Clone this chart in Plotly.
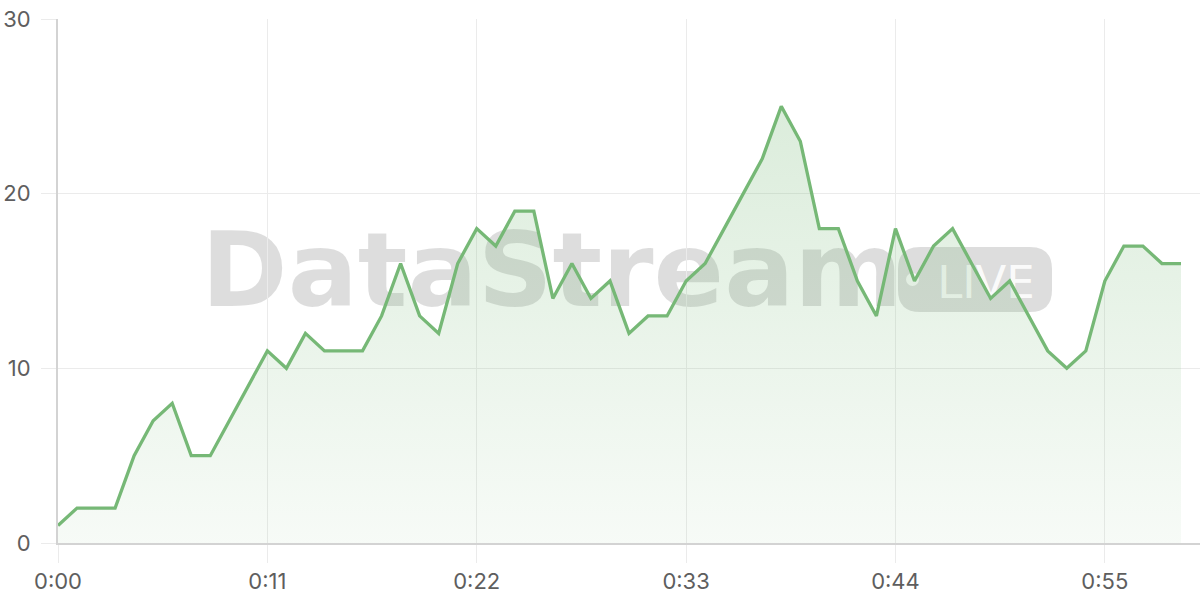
import plotly.graph_objects as go

# ---- data ----
seconds = list(range(60))
values = [1, 2, 2, 2, 5, 7, 8, 5, 5, 7,
          9, 11, 10, 12, 11, 11, 11, 13, 16, 13,
          12, 16, 18, 17, 19, 19, 14, 16, 14, 15,
          12, 13, 13, 15, 16, 18, 20, 22, 25, 23,
          18, 18, 15, 13, 18, 15, 17, 18, 16, 14,
          15, 13, 11, 10, 11, 15, 17, 17, 16, 16]
tick_vals = [0, 11, 22, 33, 44, 55]
tick_text = ["0:00", "0:11", "0:22", "0:33", "0:44", "0:55"]
y_ticks = [0, 10, 20, 30]
watermark_main = "DataStream"
watermark_badge = "LIVE"

W, H = 1200, 600
PLOT_L, PLOT_R, PLOT_T, PLOT_B = 58, 1200, 19, 543
PW, PH = PLOT_R - PLOT_L, PLOT_B - PLOT_T


def px(x):
    return (x - PLOT_L) / PW


def py(y):
    return (PLOT_B - y) / PH


LINE = "#76b876"
TICK_COLOR = "#5e5e5e"

fig = go.Figure()
fig.add_trace(go.Scatter(
    x=seconds, y=values, mode="lines",
    line=dict(color=LINE, width=3.3),
    fill="tozeroy",
    fillgradient=dict(type="vertical", start=0, stop=25,
                      colorscale=[[0, "rgba(118,184,118,0.06)"],
                                  [1, "rgba(118,184,118,0.26)"]]),
    hoverinfo="skip", showlegend=False,
))

# watermark shapes (below traces)
shapes = []
shapes.append(dict(type="rect", xref="paper", yref="paper",
                   x0=px(196), x1=px(908), y0=py(306), y1=py(220),
                   line=dict(width=0), fillcolor="rgba(0,0,0,0)", layer="below",
                   label=dict(text=watermark_main,
                              font=dict(family="DejaVu Sans", size=104, color="rgba(0,0,0,0.135)", weight="bold"),
                              textposition="middle center")))
# pill
x0, x1, y0, y1, r = 898, 1052, 247, 312, 22
rx, ry = r / PW, r / PH
X0, X1, Y0, Y1 = px(x0), px(x1), py(y1), py(y0)
path = (f"M {X0+rx},{Y0} L {X1-rx},{Y0} Q {X1},{Y0} {X1},{Y0+ry} "
        f"L {X1},{Y1-ry} Q {X1},{Y1} {X1-rx},{Y1} L {X0+rx},{Y1} "
        f"Q {X0},{Y1} {X0},{Y1-ry} L {X0},{Y0+ry} Q {X0},{Y0} {X0+rx},{Y0} Z")
shapes.append(dict(type="path", xref="paper", yref="paper", path=path,
                   line=dict(width=0), fillcolor="rgba(0,0,0,0.135)", layer="below"))
shapes.append(dict(type="circle", xref="paper", yref="paper",
                   x0=px(906), x1=px(919), y0=py(286), y1=py(273),
                   line=dict(width=0), fillcolor="rgba(255,255,255,0.85)", layer="below"))
shapes.append(dict(type="rect", xref="paper", yref="paper",
                   x0=px(930), x1=px(1042), y0=py(300), y1=py(258),
                   line=dict(width=0), fillcolor="rgba(0,0,0,0)", layer="below",
                   label=dict(text=watermark_badge,
                              font=dict(family="DejaVu Sans", size=45, color="rgba(255,255,255,0.9)"),
                              textposition="middle center")))

fig.update_layout(
    width=W, height=H,
    margin=dict(l=PLOT_L, r=W - PLOT_R, t=PLOT_T, b=H - PLOT_B),
    paper_bgcolor="white", plot_bgcolor="white",
    shapes=shapes,
    font=dict(family="Inter", size=22, color=TICK_COLOR),
    xaxis=dict(range=[0, 60], tickmode="array", tickvals=tick_vals, ticktext=tick_text,
               showgrid=True, gridcolor="#ebebeb", gridwidth=1,
               ticks="outside", ticklen=18, tickcolor="#ebebeb", tickwidth=1,
               showline=True, linecolor="#d3d3d3", linewidth=2,
               zeroline=False, fixedrange=True, automargin=False,
               ticklabeloverflow="allow",
               tickfont=dict(family="Inter", size=22, color=TICK_COLOR)),
    yaxis=dict(range=[0, 30], tickmode="array", tickvals=y_ticks,
               showgrid=True, gridcolor="#ebebeb", gridwidth=1,
               ticks="outside", ticklen=15, tickcolor="#ebebeb", tickwidth=1,
               showline=True, linecolor="#d3d3d3", linewidth=2,
               zeroline=False, fixedrange=True, automargin=False,
               ticklabelstandoff=6, ticklabeloverflow="allow",
               tickfont=dict(family="Inter", size=22, color=TICK_COLOR)),
)

fig.write_html("out.html", config={"displayModeBar": False},
               post_script="document.body.style.margin='0px';")
